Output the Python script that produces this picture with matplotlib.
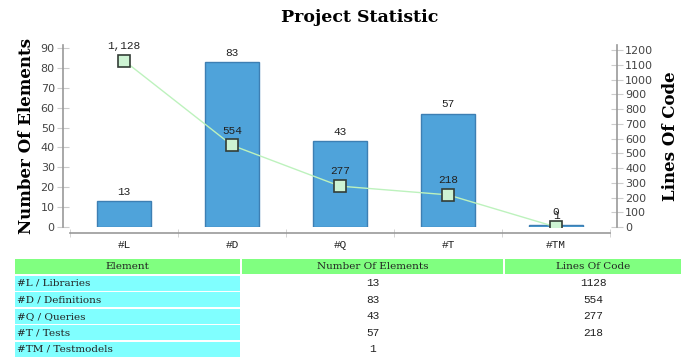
import matplotlib.pyplot as plt
from matplotlib.patches import Rectangle
import numpy as np

# données
codes = ['#L', '#D', '#Q', '#T', '#TM']
noms = ['Libraries', 'Definitions', 'Queries', 'Tests', 'Testmodels']
nb_elements = [13, 83, 43, 57, 1]
lignes_code = [1128, 554, 277, 218, 0]
lignes_code_table = ['1128', '554', '277', '218', '']
entetes = ['Element', 'Number Of Elements', 'Lines Of Code']

W, H = 687, 358
fig = plt.figure(figsize=(W / 100, H / 100), dpi=100)

ax = fig.add_axes([70 / W, (H - 227) / H, 540 / W, 182 / H])
x = np.arange(len(codes))
ax.bar(x, nb_elements, width=0.5, color='#4fa3da', edgecolor='#3d7fb3', linewidth=1, zorder=2)
ax.set_xlim(-0.5, len(codes) - 0.5)
ax.set_ylim(0, 91.5)
ax.set_yticks(range(0, 91, 10))

for xi, v in zip(x, nb_elements):
    ax.annotate(str(v), (xi, v), textcoords='offset points', xytext=(0, 3), ha='center', va='bottom',
                fontsize=8, family='Liberation Mono', color='#222')

ax2 = ax.twinx()
ax2.set_ylim(0, 1234)
ax2.set_yticks(range(0, 1201, 100))
ax2.plot(x, lignes_code, color='#bdf2bd', linewidth=1, marker='s', markersize=8,
         markerfacecolor='#cdf3d3', markeredgecolor='#333d36', markeredgewidth=1.2, zorder=3)
for xi, v in zip(x, lignes_code):
    ax2.annotate(f'{v:,}', (xi, v), textcoords='offset points', xytext=(0, 7), ha='center', va='bottom',
                 fontsize=8, family='Liberation Mono', color='#222')

# axes
for a in (ax, ax2):
    a.spines['top'].set_visible(False)
    a.spines['left'].set_position(('outward', 5))
    a.spines['right'].set_position(('outward', 5))
    a.spines['bottom'].set_position(('outward', 4))
    for s in ('left', 'right', 'bottom'):
        a.spines[s].set_color('#999')
        a.spines[s].set_linewidth(1.2)
ax.spines['right'].set_visible(False)
ax2.spines['left'].set_visible(False)
ax2.spines['bottom'].set_visible(False)

ax.set_xticks(x)
ax.set_xticklabels(codes, family='Liberation Mono', fontsize=8, color='#222')
ax.tick_params(axis='x', length=0, pad=5)
ax.set_xticks(np.arange(-0.5, len(codes), 1), minor=True)
ax.tick_params(axis='x', which='minor', length=6, direction='inout', color='#ccc')
ax.tick_params(axis='y', direction='inout', length=8, color='#ccc', labelsize=8, labelcolor='#444', pad=2)
ax2.tick_params(axis='y', direction='inout', length=8, color='#ccc', labelsize=8, labelcolor='#444', pad=2)

ax.set_ylabel('Number Of Elements', family='DejaVu Serif', fontweight='bold', fontsize=12, labelpad=4)
ax2.set_ylabel('Lines Of Code', family='DejaVu Serif', fontweight='bold', fontsize=12, labelpad=6)
fig.text(360 / W, 1 - 18 / H, 'Project Statistic', ha='center', va='center',
         family='DejaVu Serif', fontweight='bold', fontsize=12.5)

# tableau
tab = fig.add_axes([0, 0, 1, 1], zorder=-1)
tab.set_xlim(0, W)
tab.set_ylim(H, 0)
tab.axis('off')
cols = [(15, 240), (242, 503), (505, 681)]
for (x0, x1), t in zip(cols, entetes):
    tab.add_patch(Rectangle((x0, 259), x1 - x0, 15, color='#80ff80', lw=0))
    tab.text((x0 + x1) / 2, 266.5, t, ha='center', va='center', family='DejaVu Serif', fontsize=7.5, color='#222')
for i, (c, n) in enumerate(zip(codes, noms)):
    y0 = 275.5 + i * 16.6
    tab.add_patch(Rectangle((15, y0), 225, 15, color='#80ffff', lw=0))
    tab.text(17, y0 + 7.5, f'{c} / {n}', ha='left', va='center', family='DejaVu Serif', fontsize=7.5, color='#222')
    tab.text(373, y0 + 7.5, str(nb_elements[i]), ha='center', va='center', family='Liberation Mono', fontsize=8, color='#222')
    tab.text(593, y0 + 7.5, lignes_code_table[i], ha='center', va='center', family='Liberation Mono', fontsize=8, color='#222')

plt.savefig('out.png', dpi=100)
